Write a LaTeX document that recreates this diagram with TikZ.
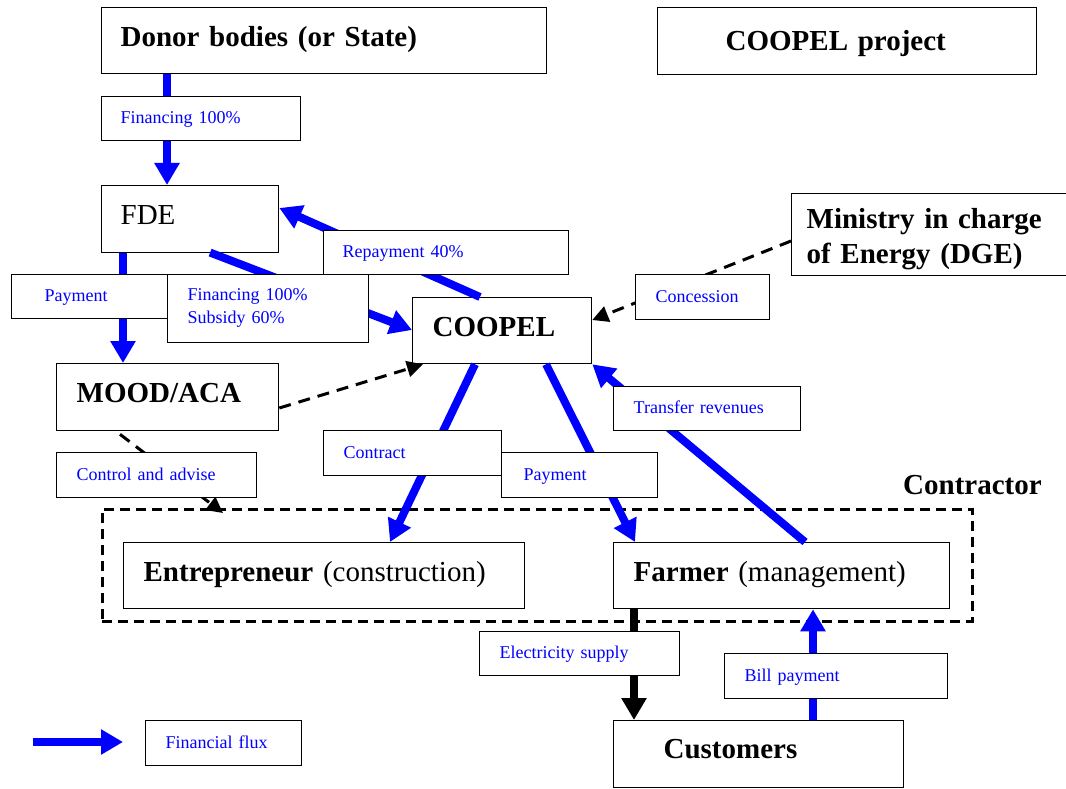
\documentclass[tikz,border=0pt]{standalone}
\usepackage{fontspec}
\setmainfont{Liberation Serif}
\usetikzlibrary{arrows.meta,calc}
\begin{document}
\begin{tikzpicture}[x=1pt,y=-1pt,
  box/.style={draw, fill=white, line width=1.3pt, anchor=north west, inner ysep=0pt, align=left},
  big/.style={box, font=\fontsize{29}{35}\selectfont, text height=20pt, text depth=9pt},
  bigb/.style={big, font=\bfseries\fontsize{29}{35}\selectfont},
  lbl/.style={box, text=blue, font=\fontsize{18}{23}\selectfont, text height=13pt, text depth=3pt},
  fin/.style={draw=blue, line width=8pt, -{Triangle[length=22pt,width=24pt]}},
  flow/.style={draw=black, line width=8pt, -{Triangle[length=22pt,width=24pt]}},
  dsh/.style={draw=black, line width=3pt, dash pattern=on 12pt off 8pt, -{Triangle[length=16pt,width=16pt]}}
]
\useasboundingbox (0,0) rectangle (1066,789);

% main boxes
\node[bigb, minimum width=445, minimum height=66, text width=407, inner xsep=19] (donor) at (101,7) {Donor bodies (or State)};
\node[bigb, minimum width=379, minimum height=67, text width=243, inner xsep=68, text depth=2pt] (proj) at (657,7) {COOPEL project};
\node[big, minimum width=177, minimum height=67, text width=139, inner xsep=19] (fde) at (101,185) {FDE};
\node[bigb, minimum width=290, minimum height=82, text width=260, inner xsep=15, text depth=32pt] (ministry) at (791,193) {Ministry in charge\\of Energy (DGE)};
\node[bigb, minimum width=179, minimum height=66, text width=139, inner xsep=20] (coopel) at (412,297) {COOPEL};
\node[bigb, minimum width=222, minimum height=67, text width=182, inner xsep=20] (mood) at (56,363) {MOOD/ACA};

% contractor group
\node[draw, line width=2.5pt, dash pattern=on 10pt off 6pt, anchor=north west, minimum width=870, minimum height=112, inner sep=0pt] (grp) at (101,508) {};
\node[anchor=base west, inner sep=0pt, font=\bfseries\fontsize{29}{35}\selectfont] (contractor) at (903,494) {Contractor};

\node[big, minimum width=401, minimum height=66, text width=361, inner xsep=20] (entre) at (123,542) {\textbf{Entrepreneur} (construction)};
\node[big, minimum width=336, minimum height=66, text width=296, inner xsep=20] (farmer) at (613,542) {\textbf{Farmer} (management)};
\node[bigb, minimum width=290, minimum height=67, text width=190, inner xsep=50, text depth=11pt] (cust) at (613,720) {Customers};

% connectors
\draw[fin] ($(donor.south west)+(66,0)$) -- ($(fde.north west)+(66,0)$);
\draw[fin] ($(fde.south west)+(22,0)$) -- ($(mood.north west)+(67,0)$);
\draw[fin, shorten <=-2pt] ($(fde.south west)+(111,0)$) -- ($(coopel.north west)+(0,33)$);
\draw[fin] ($(coopel.north west)+(68,0)$) -- ($(fde.north east)+(0,23)$);
\draw[dsh] ($(ministry.north west)+(0,48)$) -- ($(coopel.north east)+(0,23)$);
\draw[dsh] ($(mood.north east)+(0,45)$) -- ($(coopel.south west)+(11,0)$);
\draw[dsh] ($(mood.south west)+(64,3)$) -- ($(grp.north west)+(122,5)$);
\draw[fin] ($(coopel.south west)+(63,0)$) -- ($(entre.north west)+(267,0)$);
\draw[fin] ($(coopel.south west)+(134,0)$) -- ($(farmer.north west)+(22,0)$);
\draw[fin] ($(farmer.north west)+(192,0)$) -- (coopel.south east);
\draw[flow] ($(farmer.south west)+(21,0)$) -- ($(cust.north west)+(21,0)$);
\draw[fin] ($(cust.north west)+(200,0)$) -- ($(farmer.south west)+(200,0)$);

% label boxes
\node[lbl, minimum width=199, minimum height=44, text width=161, inner xsep=19] (lfin) at (101,96) {Financing 100\%};
\node[lbl, minimum width=245, minimum height=44, text width=207, inner xsep=19] (lrep) at (323,230) {Repayment 40\%};
\node[lbl, minimum width=170, minimum height=44, text width=104, inner xsep=33] (lpay1) at (11,274) {Payment};
\node[lbl, minimum width=201, minimum height=68, text width=161, inner xsep=20, text depth=29pt] (lsub) at (167,274) {Financing 100\%\\Subsidy 60\%};
\node[lbl, minimum width=134, minimum height=45, text width=94, inner xsep=20] (lcon) at (635,274) {Concession};
\node[lbl, minimum width=187, minimum height=44, text width=147, inner xsep=20] (ltr) at (613,386) {Transfer revenues};
\node[lbl, minimum width=178, minimum height=45, text width=138, inner xsep=20] (lctr) at (323,430) {Contract};
\node[lbl, minimum width=200, minimum height=45, text width=160, inner xsep=20] (lctl) at (56,452) {Control and advise};
\node[lbl, minimum width=156, minimum height=45, text width=112, inner xsep=22] (lpay2) at (501,452) {Payment};
\node[lbl, minimum width=200, minimum height=44, text width=160, inner xsep=20] (lel) at (479,631) {Electricity supply};
\node[lbl, minimum width=223, minimum height=45, text width=183, inner xsep=20] (lbill) at (724,653) {Bill payment};

% legend
\coordinate (lg1) at (33,742);
\coordinate (lg2) at (123,742);
\draw[fin] (lg1) -- (lg2);
\node[lbl, minimum width=156, minimum height=45, text width=116, inner xsep=20] (lflux) at (145,720) {Financial flux};
\end{tikzpicture}
\end{document}
